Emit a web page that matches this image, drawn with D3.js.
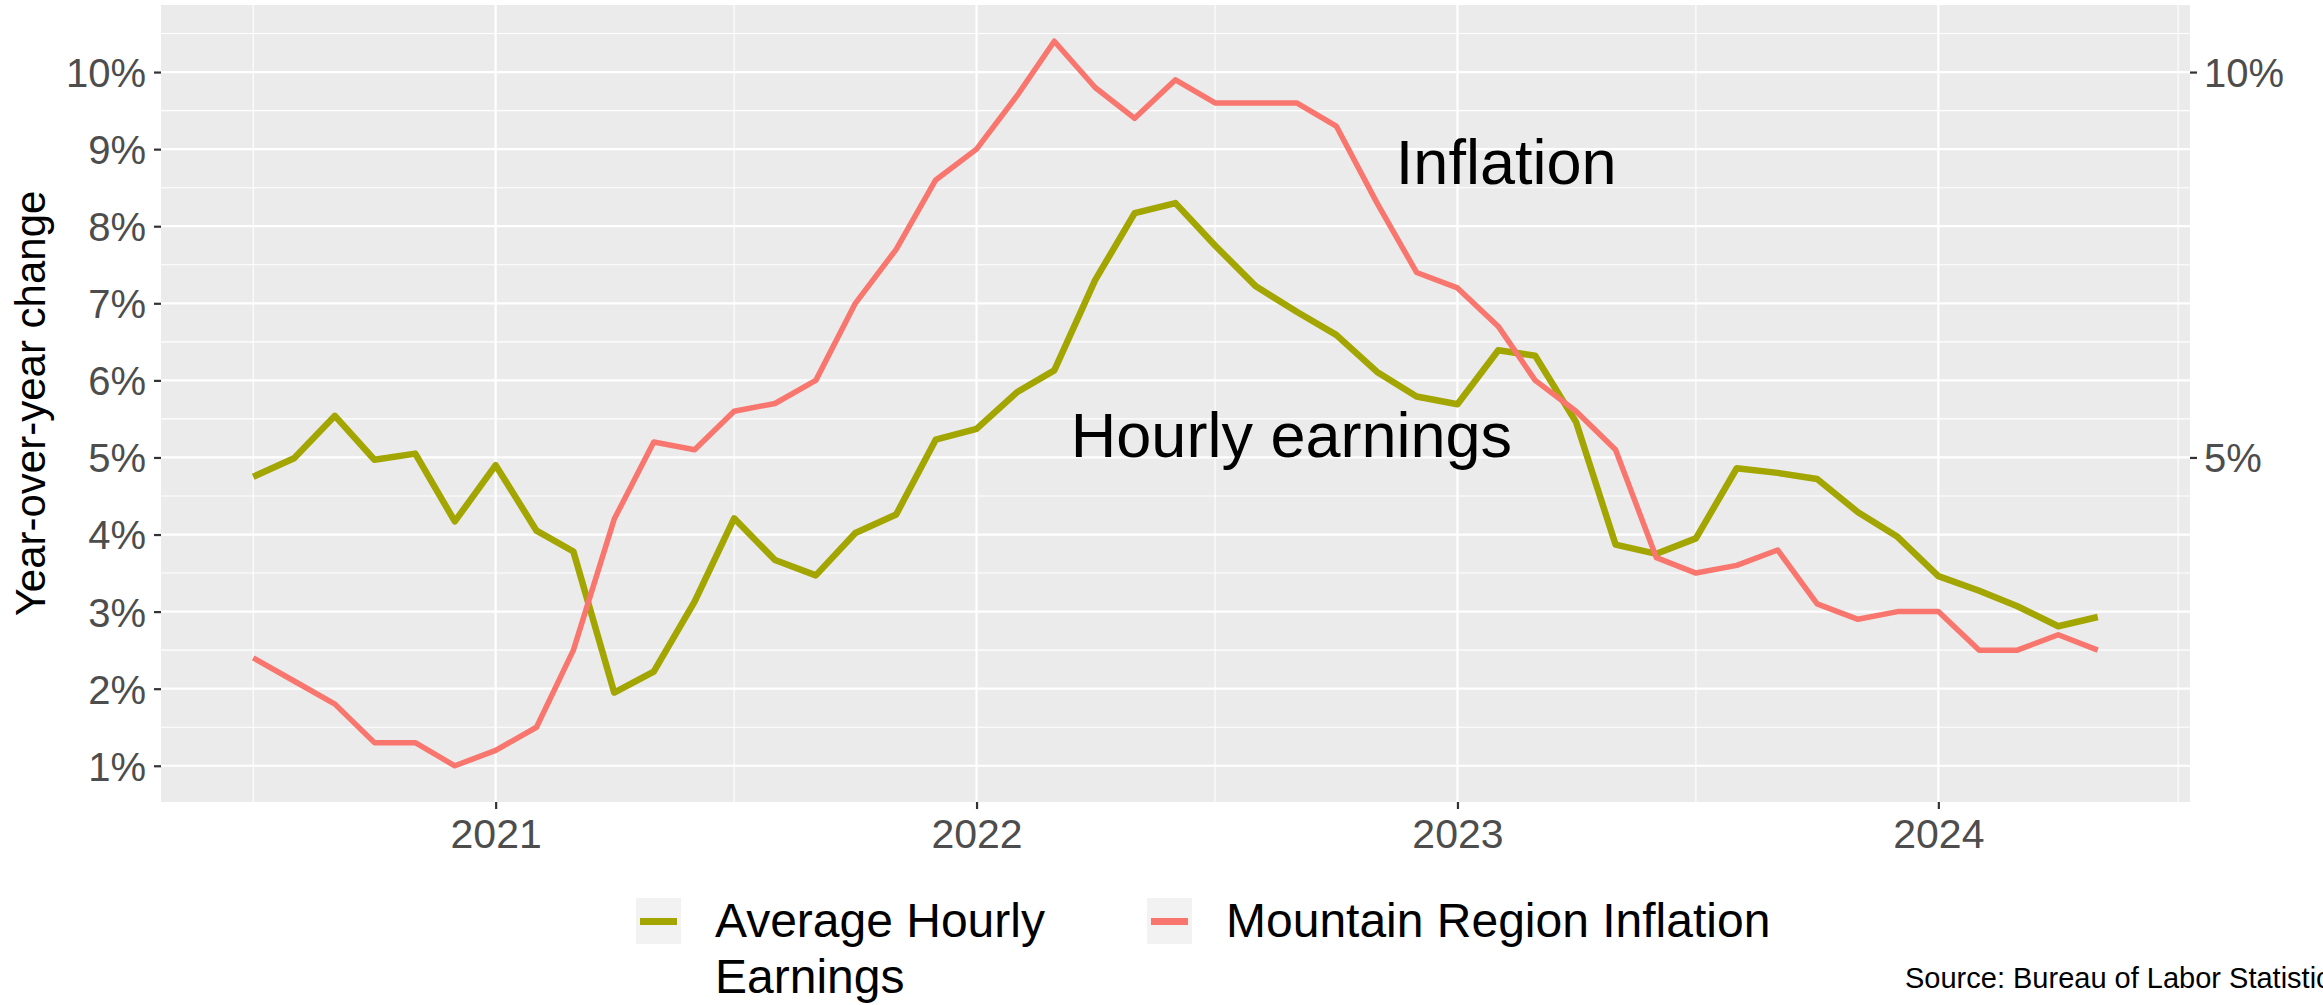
<!DOCTYPE html>
<html>
<head>
<meta charset="utf-8">
<script src="https://cdn.jsdelivr.net/npm/d3@7"></script>
<style>
  body { margin: 0; background: #fff; }
  svg text { font-family: "Liberation Sans", Arial, sans-serif; }
</style>
</head>
<body>
<div class="chart"></div>
<script>
// monthly, Jul 2020 .. May 2024
const months = d3.timeMonth.range(new Date(2020, 6, 1), new Date(2024, 5, 1));

const earnings = [
  4.75, 4.99, 5.54, 4.97, 5.05, 4.17,
  4.90, 4.05, 3.78, 1.95, 2.22, 3.13, 4.21, 3.67, 3.47, 4.02, 4.26, 5.23,
  5.37, 5.85, 6.13, 7.30, 8.17, 8.30, 7.75, 7.22, 6.89, 6.59, 6.11, 5.79,
  5.69, 6.39, 6.32, 5.46, 3.87, 3.75, 3.95, 4.86, 4.80, 4.72, 4.29, 3.97,
  3.46, 3.27, 3.07, 2.81, 2.93
];
const inflation = [
  2.4, 2.1, 1.8, 1.3, 1.3, 1.0,
  1.2, 1.5, 2.5, 4.2, 5.2, 5.1, 5.6, 5.7, 6.0, 7.0, 7.7, 8.6,
  9.0, 9.7, 10.4, 9.8, 9.4, 9.9, 9.6, 9.6, 9.6, 9.3, 8.3, 7.4,
  7.2, 6.7, 6.0, 5.6, 5.1, 3.7, 3.5, 3.6, 3.8, 3.1, 2.9, 3.0,
  3.0, 2.5, 2.5, 2.7, 2.5
];

const seriesNames = ["Average Hourly\nEarnings", "Mountain Region Inflation"];
const seriesColors = ["#A3A500", "#F8766D"];
const yTicksLeft = [1, 2, 3, 4, 5, 6, 7, 8, 9, 10];
const yTicksRight = [5, 10];
const xTicks = [2021, 2022, 2023, 2024];

const notes = [
  { label: "Inflation", date: new Date(2023, 1, 7), value: 8.55 },
  { label: "Hourly earnings", date: new Date(2022, 7, 28), value: 5.0 }
];
const caption = "Source: Bureau of Labor Statistics";

const W = 2323, H = 1005;
const panel = { left: 161, right: 2190, top: 5, bottom: 802 };

const svg = d3.select('div.chart').append('svg')
  .attr('width', W).attr('height', H);

// ggplot style 5% expansion
const xExt = d3.extent(months);
const xPad = (xExt[1] - xExt[0]) * 0.05;
const x = d3.scaleTime()
  .domain([new Date(+xExt[0] - xPad), new Date(+xExt[1] + xPad)])
  .range([panel.left, panel.right]);

const allVals = earnings.concat(inflation);
const yExt = d3.extent(allVals);
const yPad = (yExt[1] - yExt[0]) * 0.05;
const y = d3.scaleLinear()
  .domain([yExt[0] - yPad, yExt[1] + yPad])
  .range([panel.bottom, panel.top]);

svg.append('rect')
  .attr('x', panel.left).attr('y', panel.top)
  .attr('width', panel.right - panel.left).attr('height', panel.bottom - panel.top)
  .attr('fill', '#EBEBEB');

const grid = svg.append('g');
// minor grid
const yMinor = d3.range(0.5, 11, 1).filter(v => y(v) > panel.top && y(v) < panel.bottom);
grid.selectAll('.ymin').data(yMinor).enter().append('line')
  .attr('x1', panel.left).attr('x2', panel.right)
  .attr('y1', d => y(d)).attr('y2', d => y(d))
  .attr('stroke', '#fff').attr('stroke-width', 1.1);
const xMinor = [2020, 2021, 2022, 2023, 2024].map(yr => new Date(yr, 6, 1))
  .filter(d => x(d) > panel.left && x(d) < panel.right);
grid.selectAll('.xmin').data(xMinor).enter().append('line')
  .attr('y1', panel.top).attr('y2', panel.bottom)
  .attr('x1', d => x(d)).attr('x2', d => x(d))
  .attr('stroke', '#fff').attr('stroke-width', 1.1);
// major grid
grid.selectAll('.ymaj').data(yTicksLeft).enter().append('line')
  .attr('x1', panel.left).attr('x2', panel.right)
  .attr('y1', d => y(d)).attr('y2', d => y(d))
  .attr('stroke', '#fff').attr('stroke-width', 2.2);
grid.selectAll('.xmaj').data(xTicks).enter().append('line')
  .attr('y1', panel.top).attr('y2', panel.bottom)
  .attr('x1', d => x(new Date(d, 0, 1))).attr('x2', d => x(new Date(d, 0, 1)))
  .attr('stroke', '#fff').attr('stroke-width', 2.2);

// lines
const line = d3.line().x((d, i) => x(months[i])).y(d => y(d));
const lineData = [
  { vals: earnings, color: seriesColors[0], w: 6.5 },
  { vals: inflation, color: seriesColors[1], w: 5.5 }
];
svg.selectAll('path.series').data(lineData).enter().append('path')
  .attr('class', 'series')
  .attr('d', d => line(d.vals))
  .attr('fill', 'none')
  .attr('stroke', d => d.color)
  .attr('stroke-width', d => d.w)
  .attr('stroke-linejoin', 'round');

// annotations
svg.selectAll('text.note').data(notes).enter().append('text')
  .attr('class', 'note')
  .attr('x', d => x(d.date)).attr('y', d => y(d.value))
  .attr('text-anchor', 'middle')
  .attr('font-size', 63).attr('fill', '#000')
  .text(d => d.label);

// axes
function styleAxis(g) {
  g.select('.domain').remove();
  g.selectAll('.tick line').attr('stroke', '#333').attr('stroke-width', 2.2);
  g.selectAll('.tick text').attr('fill', '#4D4D4D').attr('font-size', 40)
    .attr('font-family', '"Liberation Sans", Arial, sans-serif');
}
svg.append('g')
  .attr('transform', `translate(${panel.left},0)`)
  .call(d3.axisLeft(y).tickValues(yTicksLeft).tickFormat(d => d + '%').tickSize(7).tickPadding(8))
  .call(styleAxis)
  .selectAll('.tick text').attr('dy', '0.36em');
svg.append('g')
  .attr('transform', `translate(${panel.right},0)`)
  .call(d3.axisRight(y).tickValues(yTicksRight).tickFormat(d => d + '%').tickSize(7).tickPadding(7))
  .call(styleAxis)
  .selectAll('.tick text').attr('dy', '0.36em');
svg.append('g')
  .attr('transform', `translate(0,${panel.bottom})`)
  .call(d3.axisBottom(x).tickValues(xTicks.map(d => new Date(d, 0, 1))).tickFormat(d3.timeFormat('%Y')).tickSize(7).tickPadding(10))
  .call(styleAxis)
  .selectAll('.tick text').attr('font-size', 41);

// y title
svg.append('text')
  .attr('transform', `translate(45,${(panel.top + panel.bottom) / 2}) rotate(-90)`)
  .attr('text-anchor', 'middle')
  .attr('font-size', 42).attr('fill', '#000')
  .text('Year-over-year change');

// legend
const legend = svg.append('g');
const legendX = [636, 1147];
seriesNames.forEach((name, i) => {
  const g = legend.append('g').attr('transform', `translate(${legendX[i]},898)`);
  g.append('rect').attr('width', 45).attr('height', 46).attr('fill', '#F2F2F2');
  g.append('line').attr('x1', 4).attr('x2', 41).attr('y1', 23.5).attr('y2', 23.5)
    .attr('stroke', seriesColors[i]).attr('stroke-width', 7);
  const t = g.append('text').attr('x', 79).attr('y', 39)
    .attr('font-size', 48).attr('fill', '#000');
  name.split('\n').forEach((s, j) => {
    t.append('tspan').attr('x', 79).attr('dy', j ? 56 : 0).text(s);
  });
});

svg.append('text')
  .attr('x', 1905).attr('y', 988)
  .attr('font-size', 29).attr('fill', '#000')
  .text(caption);
</script>
</body>
</html>
